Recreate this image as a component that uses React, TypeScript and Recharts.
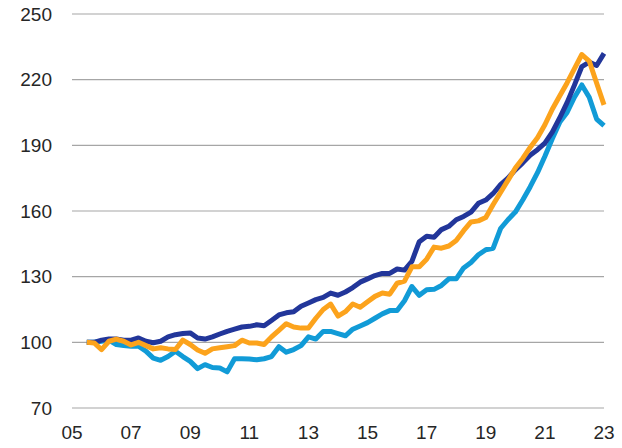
import { LineChart, Line, XAxis, YAxis, CartesianGrid } from "recharts";

// quarterly observations, starting Q3 2005, ending Q1 2023
const START = 2005.5;
const STEP = 0.25;

const NAVY = [
  100, 100,
  101, 101.5, 101.5, 101,
  101, 102, 100.5, 99.8,
  100.5, 102.5, 103.5, 104,
  104.3, 102, 101.5, 102.5,
  103.8, 105, 106, 107,
  107.3, 108, 107.6, 110,
  112.5, 113.5, 114, 116.5,
  118, 119.5, 120.5, 122.5,
  121.5, 123, 125, 127.5,
  129, 130.5, 131.5, 131.5,
  133.5, 133, 137, 146,
  148.5, 148, 151.5, 153,
  156, 157.5, 159.5, 163.5,
  165, 168, 172, 175,
  178.8, 182, 185.5, 188,
  191, 196, 202.5, 209.5,
  217.5, 226, 228, 226.5,
  232,
];

const ORANGE = [
  100, 99.7,
  96.7, 100.5, 101.5, 100.5,
  98.8, 100, 98.5, 97,
  97.5, 97, 96.7, 101,
  99, 96.5, 95, 97,
  97.5, 98, 98.5, 101,
  99.7, 99.7, 99, 102.5,
  105.5, 108.5, 107, 106.5,
  106.5, 111, 115, 117.5,
  112, 114, 117.5, 116,
  118.5, 121, 122.5, 122,
  127, 128, 134.5, 134.5,
  138, 143.5, 143, 144,
  146.5, 151, 155, 155.5,
  157, 163, 168.5, 174,
  179.6, 184, 189, 193.5,
  199.4, 206.5, 212.5, 218.5,
  225, 231.5, 228.5, 218.5,
  208.5,
];

const LIGHT = [
  100, 100,
  100.5, 101, 99, 98.5,
  98.2, 98.2, 96, 92.8,
  91.8, 93.5, 95.9, 93.5,
  91.3, 88, 89.8, 88.5,
  88.3, 86.5, 92.5, 92.5,
  92.4, 92, 92.5, 93.5,
  98, 95.5, 96.7, 98.5,
  102.5, 101.5, 105, 105,
  104, 103, 106, 107.5,
  109, 111, 113, 114.5,
  114.5, 119, 125.5, 121.5,
  124, 124.2, 126, 129,
  129, 134, 136.5, 140,
  142.3, 143, 152, 156,
  159.5, 165, 171, 177.5,
  185, 193, 200.5, 205,
  212, 217.6, 212, 202,
  199,
];

const X_TICKS = [2005, 2007, 2009, 2011, 2013, 2015, 2017, 2019, 2021, 2023];
const Y_TICKS = [70, 100, 130, 160, 190, 220, 250];

const data = NAVY.map((v, i) => ({
  t: START + i * STEP,
  navy: v,
  orange: ORANGE[i],
  light: LIGHT[i],
}));

const tickStyle = { fontSize: 19, fill: "#262626", fontFamily: "'Liberation Sans', Arial, sans-serif" };

export default function App() {
  return (
    <div style={{ position: "absolute", left: 0, top: 0, background: "#fff" }}>
      <LineChart width={622} height={448} data={data} margin={{ top: 14, right: 18, bottom: 0, left: 0 }}>
        <CartesianGrid vertical={false} stroke="#a6a6a6" strokeWidth={1.2} />
        <XAxis
          dataKey="t"
          type="number"
          domain={[2005, 2023]}
          ticks={X_TICKS}
          tickFormatter={(v: number) => String(v).slice(2)}
          axisLine={false}
          tickLine={false}
          tickSize={6}
          tickMargin={12}
          height={40}
          tick={tickStyle}
          interval={0}
        />
        <YAxis
          domain={[70, 250]}
          ticks={Y_TICKS}
          axisLine={false}
          tickLine={false}
          tickSize={6}
          tickMargin={14}
          width={72}
          tick={tickStyle}
          interval={0}
        />
        <Line dataKey="light" stroke="#119bd7" strokeWidth={5} dot={false} type="linear" isAnimationActive={false} strokeLinejoin="round" />
        <Line dataKey="navy" stroke="#22369a" strokeWidth={5} dot={false} type="linear" isAnimationActive={false} strokeLinejoin="round" />
        <Line dataKey="orange" stroke="#fca31c" strokeWidth={5} dot={false} type="linear" isAnimationActive={false} strokeLinejoin="round" />
      </LineChart>
    </div>
  );
}
